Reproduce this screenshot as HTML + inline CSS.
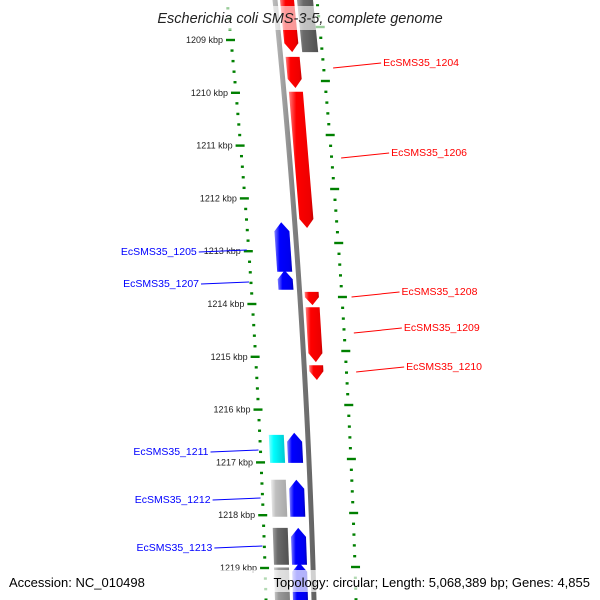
<!DOCTYPE html>
<html><head><meta charset="utf-8"><style>
html,body{margin:0;padding:0;background:#fff;}
svg{display:block;font-family:"Liberation Sans",sans-serif;}
</style></head><body>
<svg id="map" width="600" height="600" viewBox="0 0 600 600" xmlns="http://www.w3.org/2000/svg">
<defs>
<linearGradient id="gRed" x1="0" x2="1"><stop offset="0" stop-color="#ff8080"/><stop offset="0.3" stop-color="#ff0000"/><stop offset="0.85" stop-color="#ee0000"/><stop offset="1" stop-color="#c00000"/></linearGradient>
<linearGradient id="gBlue" x1="0" x2="1"><stop offset="0" stop-color="#8080ff"/><stop offset="0.3" stop-color="#0000ff"/><stop offset="0.85" stop-color="#0000ee"/><stop offset="1" stop-color="#0000b0"/></linearGradient>
<linearGradient id="gCyan" x1="0" x2="1"><stop offset="0" stop-color="#80ffff"/><stop offset="0.3" stop-color="#00ffff"/><stop offset="1" stop-color="#00c8d0"/></linearGradient>
<linearGradient id="gLight" x1="0" x2="1"><stop offset="0" stop-color="#eeeeee"/><stop offset="0.3" stop-color="#c0c0c0"/><stop offset="1" stop-color="#a8a8a8"/></linearGradient>
<linearGradient id="gDark" x1="0" x2="1"><stop offset="0" stop-color="#a0a0a0"/><stop offset="0.3" stop-color="#6a6a6a"/><stop offset="1" stop-color="#505050"/></linearGradient>
<linearGradient id="gMid" x1="0" x2="1"><stop offset="0" stop-color="#cccccc"/><stop offset="0.3" stop-color="#999999"/><stop offset="1" stop-color="#808080"/></linearGradient>
<linearGradient id="gBB" x1="0" x2="1"><stop offset="0" stop-color="#c0c0c0"/><stop offset="0.5" stop-color="#808080"/><stop offset="1" stop-color="#606060"/></linearGradient>
</defs>
<g id="layer"></g>
</svg>
<script>
// ---- data ----
const tickKbp = [1209,1210,1211,1212,1213,1214,1215,1216,1217,1218,1219];
const featStart = [1208.24,1209.32,1209.98,1213.77,1214.06,1215.16,1208.24,1212.45,1213.36,1216.44,1216.48,1217.33,1217.33,1218.24,1218.24,1218.90,1218.99];
const featEnd   = [1209.23,1209.91,1212.56,1214.02,1215.10,1215.44,1209.23,1213.39,1213.73,1217.01,1217.01,1218.03,1218.03,1218.94,1218.94,1219.70,1219.70];
const featStrand= [1,1,1,1,1,1,2,-1,-1,-1,-2,-1,-2,-1,-2,-1,-2];
const featFill  = ['gRed','gRed','gRed','gRed','gRed','gRed','gDark','gBlue','gBlue','gBlue','gCyan','gBlue','gLight','gBlue','gDark','gBlue','gMid'];
const featArrow = [1,1,1,1,1,1,0,1,1,1,0,1,0,1,0,1,0];
const labelText = ['EcSMS35_1204','EcSMS35_1206','EcSMS35_1208','EcSMS35_1209','EcSMS35_1210','EcSMS35_1205','EcSMS35_1207','EcSMS35_1211','EcSMS35_1212','EcSMS35_1213'];
const labelY    = [62,152,291,327,366,251,283,451,499,547];
const labelSide = [1,1,1,1,1,-1,-1,-1,-1,-1];

// ---- scales ----
const NS='http://www.w3.org/2000/svg';
const L=document.getElementById('layer');
function yOf(k){return 40+(k-1209)*52.8;}
function bb(y){return 275+0.1025*y-6.25e-5*y*y;}
function mk(tag,attrs){const e=document.createElementNS(NS,tag);for(const a in attrs)e.setAttribute(a,attrs[a]);L.appendChild(e);return e;}

// backbone
let bp=[];for(let y=-5;y<=605;y+=5)bp.push((bb(y)-2.5)+','+y);for(let y=605;y>=-5;y-=5)bp.push((bb(y)+2.5)+','+y);
let bbEl=mk('polygon',{points:bp.join(' '),fill:'url(#gBB)'});



// ticks left
for(let k=1208;k<=1220.2;k+=0.2){const y=yOf(k);if(y<-5||y>605)continue;const x=bb(y)-48;const major=Math.abs(k-Math.round(k))<0.01;
 const r=mk('rect',{x:major?x-5:x-1.5,y:y-1.2,width:major?9:3,height:2.4,fill:'#008000'});
 
 }
// ticks right
for(let i=-2;i<60;i++){const y=27+i*10.8;if(y<-5||y>605)continue;const x=bb(y)+42;const major=i%5===0;
 const r=mk('rect',{x:major?x-4:x-1.5,y:y-1.2,width:major?9:3,height:2.4,fill:'#008000'});
 
 }
// tick labels
tickKbp.forEach(k=>{const y=yOf(k);const t=mk('text',{x:bb(y)-56,y:y+3,'font-size':9,'text-anchor':'end',fill:'#222'});t.textContent=k+' kbp';
 
 });

// features
const lanes={'1':[5,19],'2':[22,38],'-1':[-21,-6],'-2':[-39,-24]};
featStart.forEach((s,i)=>{const y0=yOf(s),y1=yOf(featEnd[i]);const ln=lanes[featStrand[i]];const ah=featArrow[i]?Math.min(9,(y1-y0)*0.6):0;
 const P=(y,o)=>(bb(y)+o).toFixed(1)+','+y.toFixed(1);let pts;
 const mid=(ln[0]+ln[1])/2;
 if(featStrand[i]===1&&ah){pts=[P(y0,ln[0]),P(y0,ln[1]),P(y1-ah,ln[1]),P(y1,mid),P(y1-ah,ln[0])];}
 else if(featStrand[i]===-1&&ah){pts=[P(y0+ah,ln[0]),P(y0,mid),P(y0+ah,ln[1]),P(y1,ln[1]),P(y1,ln[0])];}
 else pts=[P(y0,ln[0]),P(y0,ln[1]),P(y1,ln[1]),P(y1,ln[0])];
 const f=mk('polygon',{points:pts.join(' '),fill:'url(#'+featFill[i]+')'});
 
 });

// labels
labelText.forEach((t,i)=>{const col=labelSide[i]>0?'#ff0000':'#0000ff';const ty=labelY[i];
 let lx1,lx2,tx,ly1,ly2;
 if(labelSide[i]>0){lx1=bb(ty)+52;lx2=lx1+48;tx=lx2+2;ly1=ty+6;ly2=ty+1;}else{lx1=bb(ty)-50;lx2=lx1-48;tx=lx2-2;ly1=ty-1;ly2=ty+1;}
 const ln=mk('line',{x1:lx1,y1:ly1,x2:lx2,y2:ly2,stroke:col,'stroke-width':1});
 
 
 const te=mk('text',{x:tx,y:ty+4,'font-size':10.5,fill:col,'text-anchor':labelSide[i]>0?'start':'end'});te.textContent=t;
 
 });

// title & footer bands
const tb=mk('rect',{x:145,y:6,width:310,height:24,fill:'#fff','fill-opacity':0.6});


const tt=mk('text',{x:300,y:23,'font-size':14.5,'font-style':'italic','text-anchor':'middle',fill:'#222'});tt.textContent='Escherichia coli SMS-3-5, complete genome';


const fb=mk('rect',{x:0,y:570,width:600,height:22,fill:'#fff','fill-opacity':0.7});


const a1=mk('text',{x:9,y:587,'font-size':13,fill:'#000'});a1.textContent='Accession: NC_010498';


const a2=mk('text',{x:590,y:587,'font-size':13,fill:'#000','text-anchor':'end'});a2.textContent='Topology: circular; Length: 5,068,389 bp; Genes: 4,855';


</script>
</body></html>
